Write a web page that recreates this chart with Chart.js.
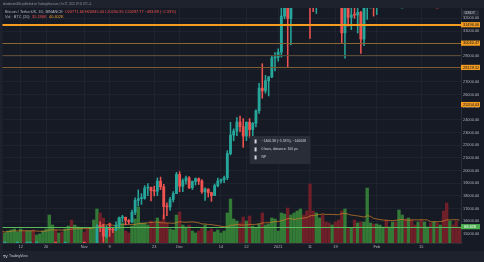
<!DOCTYPE html>
<html>
<head>
<meta charset="utf-8">
<script src="https://cdn.jsdelivr.net/npm/chart.js@4.4.0/dist/chart.umd.min.js"></script>
<style>
  html, body { margin: 0; padding: 0; background: #161a25; }
  #wrap { width: 484px; height: 262px; }
</style>
</head>
<body>
<div id="wrap"><canvas id="btc" width="484" height="262"></canvas></div>
<script>
// daily candles, BTCUSDT, Oct 6 2020 .. Feb 27 2021
var days = [
  '10-06','10-07','10-08','10-09','10-10','10-11','10-12','10-13','10-14','10-15','10-16','10-17','10-18','10-19','10-20',
  '10-21','10-22','10-23','10-24','10-25','10-26','10-27','10-28','10-29','10-30','10-31',
  '11-01','11-02','11-03','11-04','11-05','11-06','11-07','11-08','11-09','11-10','11-11','11-12','11-13','11-14','11-15',
  '11-16','11-17','11-18','11-19','11-20','11-21','11-22','11-23','11-24','11-25','11-26','11-27','11-28','11-29','11-30',
  '12-01','12-02','12-03','12-04','12-05','12-06','12-07','12-08','12-09','12-10','12-11','12-12','12-13','12-14','12-15',
  '12-16','12-17','12-18','12-19','12-20','12-21','12-22','12-23','12-24','12-25','12-26','12-27','12-28','12-29','12-30','12-31',
  '01-01','01-02','01-03','01-04','01-05','01-06','01-07','01-08','01-09','01-10','01-11','01-12','01-13','01-14','01-15',
  '01-16','01-17','01-18','01-19','01-20','01-21','01-22','01-23','01-24','01-25','01-26','01-27','01-28','01-29','01-30','01-31',
  '02-01','02-02','02-03','02-04','02-05','02-06','02-07','02-08','02-09','02-10','02-11','02-12','02-13','02-14','02-15',
  '02-16','02-17','02-18','02-19','02-20','02-21','02-22','02-23','02-24','02-25','02-26','02-27'
];

var open = [
  10796,10602,10669,10923,11051,11297,11370,11529,11425,11430,11505,11320,11360,11505,11752,
  11910,12780,12968,12923,13111,13029,13064,13634,13266,13456,13560,
  13792,13761,13549,14024,14147,15591,15580,14818,15476,15333,15305,15701,16277,16318,16070,
  15958,16717,17646,17788,17817,18622,18681,18410,18374,19162,18719,17150,17134,17720,18178,
  19696,18765,19205,19422,18650,19148,19359,19167,18324,18541,18254,18036,18808,19175,19273,
  19427,21335,22797,23108,23821,23455,22719,23810,23232,23729,24712,26493,26281,27079,27385,28875,
  28923,29331,32176,33000,31989,33950,36769,39432,40586,40088,38150,35410,34049,37372,39141,
  36733,35995,35825,36622,35901,35468,30851,32950,32078,32259,32254,32465,30362,33368,34246,34262,
  33092,33517,35472,37620,36936,38290,39181,38795,46374,46420,44808,47968,47298,47156,48581,
  47911,49134,52118,51552,55906,55841,57412,54087,48891,49677,47073,46277
];
var high = [
  10800,10681,10960,11100,11491,11444,11737,11557,11550,11627,11540,11402,11525,11823,12038,
  13217,13185,13027,13166,13350,13238,13793,13859,13638,13688,14100,
  13895,13827,14066,14243,15750,15965,15769,15650,15840,15480,15965,16340,16480,16330,16140,
  16880,17858,18476,18179,18815,18965,18695,18770,19418,19484,18915,17457,17880,18345,19863,
  19920,19342,19566,19527,19177,19420,19420,19294,18639,18557,18292,18948,19411,19349,19570,
  21560,23800,23285,24171,24295,24102,23837,24100,23794,24789,26867,28422,27500,27410,28996,29300,
  29600,33300,34778,33600,34360,36939,40365,41950,41380,41350,38264,36628,37850,40100,39700,
  37950,36852,37469,37850,36415,35600,33826,33456,32944,34880,32921,32557,33783,38531,34933,34342,
  34717,35984,37662,38708,38310,40955,39700,46794,48200,47310,48678,48985,48150,49707,49011,
  50690,52618,52530,56368,57767,58352,57508,54183,51374,52041,48424,48394
];
var low = [
  10531,10563,10534,10830,11050,11267,11204,11300,11280,11260,11223,11285,11347,11411,11686,
  11900,12678,12729,12889,12888,12765,13056,12888,12920,13126,13429,
  13620,13195,13300,13525,14093,15190,14344,14703,14805,15100,15277,15440,15952,15715,15800,
  15866,16531,17214,17335,17740,18018,17610,18000,18020,18500,16188,16438,16865,17518,18178,
  18321,18330,18925,18565,18500,18857,18902,18200,17650,17911,17572,18020,18711,19000,19050,
  19278,21230,22350,22750,23060,21815,22353,22600,22703,23433,24500,25700,26101,25880,27320,27850,
  28624,28946,31962,28130,29900,33288,36300,36500,38720,35111,30420,32531,32380,36701,34408,
  35357,33850,34800,35844,33400,30071,28850,31390,31106,32000,30837,29241,29842,31915,32825,32171,
  32296,33418,35362,36161,36570,38215,37351,37988,45000,43727,43994,46125,46202,47014,46150,
  47003,48947,50901,50710,53863,55477,47622,44892,47003,46675,44106,45000
];
var close = [
  10602,10669,10923,11051,11297,11370,11529,11425,11430,11505,11320,11360,11505,11752,11910,
  12780,12968,12923,13111,13029,13064,13634,13266,13456,13560,13792,
  13761,13549,14024,14147,15591,15580,14818,15476,15333,15305,15701,16277,16318,16070,15958,
  16717,17646,17788,17817,18622,18681,18410,18374,19162,18719,17150,17134,17720,18178,19696,
  18765,19205,19422,18650,19148,19359,19167,18324,18541,18254,18036,18808,19175,19273,19427,
  21335,22797,23108,23821,23455,22719,23810,23232,23729,24712,26493,26281,27079,27385,28875,28923,
  29331,32178,33000,31988,33950,36769,39432,40582,40088,38150,35404,34051,37371,39144,36742,
  35994,35828,36631,35891,35468,30850,32945,32078,32259,32254,32467,30366,33364,34252,34262,33092,
  33526,35466,37618,36936,38290,39186,38795,46374,46420,44807,47969,47287,47153,48577,47911,
  49133,52119,51552,55906,55842,57408,54087,48891,49676,47073,46276,46106
];
// volume, thousands of BTC
var volume = [
  51.1,42.6,51.1,55.3,59.6,46.8,59.6,51.1,51.1,51.1,55.3,34.0,38.3,51.1,59.6,
  119.1,76.6,55.3,42.6,46.8,59.6,72.3,97.9,76.6,68.1,63.8,
  46.8,59.6,63.8,97.9,144.7,127.7,106.4,59.6,85.1,51.1,59.6,106.4,85.1,51.1,42.6,
  72.3,102.1,153.2,85.1,85.1,76.6,93.6,85.1,106.4,93.6,119.1,85.1,59.6,55.3,119.1,
  131.9,76.6,68.1,76.6,51.1,42.6,51.1,63.8,76.6,51.1,59.6,46.8,55.3,42.6,51.1,
  127.7,187.2,102.1,93.6,85.1,110.6,93.6,114.9,72.3,63.8,80.9,127.7,76.6,80.9,106.4,102.1,
  51.1,127.7,123.4,148.9,119.1,127.7,136.2,144.7,119.1,136.2,251.0,136.2,127.7,106.4,119.1,
  89.4,85.1,76.6,89.4,97.9,136.2,144.7,63.8,63.8,97.9,85.1,89.4,89.4,234.0,85.1,80.9,
  80.9,76.6,68.1,97.9,68.1,89.4,89.4,140.4,119.1,102.1,106.4,97.9,76.6,89.4,97.9,
  89.4,68.1,85.1,89.4,85.1,76.6,136.2,170.2,93.6,76.6,93.6,68.1
];

var priceTicks = [15000,16000,17000,18000,19000,20000,21000,22000,23000,24000,25000,26000,27000,28000,29000,30000,31000,32000];
var tickDays = ['10-12','10-20','11-01','11-09','11-23','12-01','12-14','12-22','01-01','01-11','01-19','02-01','02-15'];
var tickText = ['12','20','Nov','9','23','Dec','14','22','2021','11','19','Feb','15'];

// drawn horizontal levels and their axis tags
var levels = [31496, 30040, 29110, 28130];
var levelTags = [31496.00, 30040.47, 28129.52, 25204.03];
var volLast = 69.4;
var volLastTag = '69.42K';
var measureAt = ['12-23', 22730];
var measureText = ['\u22121406.38 (\u22125.53%), \u2212140638', '0 bars, distance: 100 px', 'NP'];

var upCol = '#26a69a', downCol = '#ef5350';
var isUp = close.map(function(c, i){ return c >= open[i]; });

// 20-day simple average of volume (as the Vol indicator shows)
var volMA = volume.map(function(v, i){
  var s = 0, n = 0;
  for (var k = Math.max(0, i - 19); k <= i; k++) { s += volume[k]; n++; }
  return s / n;
});

var FONT = '"Liberation Sans", Arial, sans-serif';

var tvDecor = {
  id: 'tvDecor',
  beforeDraw: function(chart){
    var c = chart.ctx;
    c.save();
    c.fillStyle = '#161a25';
    c.fillRect(0, 0, chart.width, chart.height);
    c.restore();
  },
  afterDatasetsDraw: function(chart){
    var c = chart.ctx, a = chart.chartArea, y = chart.scales.y, yv = chart.scales.yv;
    c.save();
    c.beginPath(); c.rect(a.left, a.top, a.right - a.left, a.bottom - a.top); c.clip();
    var styles = [['#f39c1f', 2], ['#8a6632', 1], ['#5a4a34', 1], ['#7e5e30', 1]];
    levels.forEach(function(p, i){
      var py = Math.round(y.getPixelForValue(p)) + (styles[i][1] === 1 ? 0.5 : 0);
      c.strokeStyle = styles[i][0];
      c.lineWidth = styles[i][1];
      c.beginPath(); c.moveTo(a.left, py); c.lineTo(a.right, py); c.stroke();
    });
    var vy = Math.round(yv.getPixelForValue(volLast)) + 0.5;
    c.strokeStyle = '#5cb85c'; c.lineWidth = 1;
    c.beginPath(); c.moveTo(a.left, vy); c.lineTo(a.right, vy); c.stroke();
    c.restore();
  },
  afterDraw: function(chart){
    var c = chart.ctx, a = chart.chartArea, y = chart.scales.y, x = chart.scales.x, yv = chart.scales.yv;
    c.save();
    // top bar
    c.fillStyle = '#1e222d';
    c.fillRect(0, 0, chart.width, 8);
    c.fillStyle = '#9598a1';
    c.font = '2.7px ' + FONT;
    c.textBaseline = 'middle';
    c.fillText('drewbarton300 published on TradingView.com, Oct 27, 2022 19:11 UTC+1', 3, 4.2);
    // footer
    c.fillStyle = '#1e222d';
    c.fillRect(0, 251, chart.width, 11);
    c.fillRect(0, 8, 2.5, 243);
    c.fillStyle = '#c8cad0';
    c.font = 'bold 3.6px ' + FONT;
    c.fillText('TV', 3, 256.5);
    c.font = '3.4px ' + FONT;
    c.fillText('TradingView', 9, 256.5);

    // legend
    c.font = '3.9px ' + FONT;
    var lx = 5;
    c.fillStyle = '#b2b5be';
    c.fillText('Bitcoin / TetherUS, 1D, BINANCE', lx, 12.3);
    lx += c.measureText('Bitcoin / TetherUS, 1D, BINANCE').width + 2;
    c.fillStyle = '#ef5350';
    c.fillText('O20771.66 H20845.00 L20230.95 C20287.77 \u2212483.89 (\u22122.33%)', lx, 12.3);
    c.fillStyle = '#b2b5be';
    c.fillText('Vol \u00b7 BTC (20)', 5, 17.3);
    c.fillStyle = '#ef5350';
    c.fillText('35.186K', 32, 17.3);
    c.fillStyle = '#f0a030';
    c.fillText('40.402K', 49, 17.3);

    // axis tags
    c.font = '3.9px ' + FONT;
    c.fillStyle = '#2a2e39';
    c.fillRect(462, 10.5, 17, 5);
    c.fillStyle = '#d1d4dc';
    c.fillText('USDT', 464.5, 13.2);
    levelTags.forEach(function(p){
      var py = y.getPixelForValue(p);
      c.fillStyle = '#f39c1f';
      c.fillRect(461, py - 2.6, 19, 5.2);
      c.fillStyle = '#131722';
      c.fillText(p.toFixed(2), 463, py + 0.2);
    });
    var vy = yv.getPixelForValue(volLast);
    c.fillStyle = '#4caf50';
    c.fillRect(461, vy - 2.6, 19, 5.2);
    c.fillStyle = '#ffffff';
    c.fillText(volLastTag, 464, vy + 0.2);

    // measure box
    var mx = x.getPixelForValue(days.indexOf(measureAt[0]));
    var my = y.getPixelForValue(measureAt[1]);
    c.fillStyle = 'rgba(42,46,57,0.95)';
    c.fillRect(mx, my, 61, 28);
    c.font = '3.4px ' + FONT;
    c.fillStyle = '#d1d4dc';
    measureText.forEach(function(t, i){
      c.fillText(t, mx + 12, my + 5.5 + i * 8);
      c.fillRect(mx + 5, my + 3.5 + i * 8, 2, 4);
    });
    c.restore();
  }
};

new Chart(document.getElementById('btc'), {
  type: 'bar',
  data: {
    labels: days,
    datasets: [
      { label: 'body', data: open.map(function(o, i){ return [o, close[i]]; }),
        backgroundColor: isUp.map(function(u){ return u ? upCol : downCol; }),
        barThickness: 2.2, minBarLength: 1, grouped: false, yAxisID: 'y', order: 0 },
      { label: 'wick', data: low.map(function(l, i){ return [l, high[i]]; }),
        backgroundColor: isUp.map(function(u){ return u ? upCol : downCol; }),
        barThickness: 0.9, grouped: false, yAxisID: 'y', order: 1 },
      { type: 'line', label: 'Vol MA', data: volMA, borderColor: 'rgba(210,130,40,0.7)', borderWidth: 1,
        pointRadius: 0, tension: 0, yAxisID: 'yv', order: 2 },
      { label: 'Vol', data: volume,
        backgroundColor: isUp.map(function(u){ return u ? '#347a37' : '#6e1f28'; }),
        barThickness: 2.7, grouped: false, yAxisID: 'yv', order: 3 }
    ]
  },
  options: {
    responsive: false,
    animation: false,
    devicePixelRatio: 1,
    layout: { padding: { top: 8, bottom: 11, left: 0, right: 0 } },
    plugins: { legend: { display: false }, tooltip: { enabled: false } },
    scales: {
      x: {
        grid: { color: 'rgba(255,255,255,0.035)', offset: false, drawTicks: false },
        border: { color: '#2a2e39' },
        ticks: { autoSkip: false, maxRotation: 0, padding: 1.5, color: '#b2b5be', font: { size: 3.9, family: FONT },
          callback: function(v){ return tickText[tickDays.indexOf(days[v])]; } },
        afterBuildTicks: function(s){ s.ticks = tickDays.map(function(d){ return { value: days.indexOf(d) }; }); },
        afterFit: function(s){ s.height = 8; }
      },
      y: {
        position: 'right',
        min: 14290, max: 32813,
        grid: { color: 'rgba(255,255,255,0.035)', drawTicks: false },
        border: { color: '#2a2e39' },
        ticks: { padding: 2, color: '#b2b5be', font: { size: 3.9, family: FONT },
          callback: function(v){ return v.toFixed(2); } },
        afterBuildTicks: function(s){ s.ticks = priceTicks.map(function(v){ return { value: v }; }); },
        afterFit: function(s){ s.width = 23; }
      },
      yv: { display: false, min: 0, max: 1000 }
    }
  },
  plugins: [tvDecor]
});
</script>
</body>
</html>
